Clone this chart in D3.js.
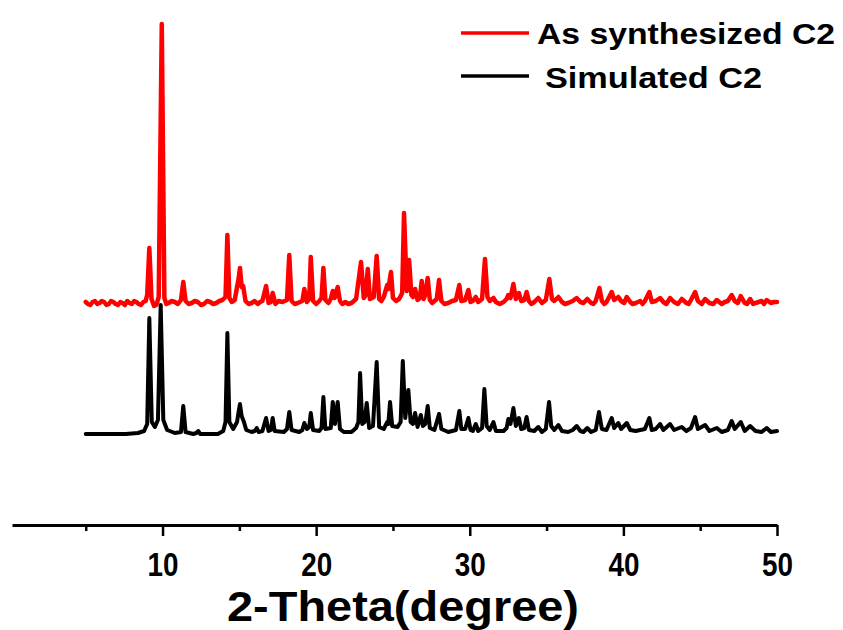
<!DOCTYPE html>
<html>
<head>
<meta charset="utf-8">
<script src="https://cdn.jsdelivr.net/npm/d3@7/dist/d3.min.js"></script>
<style>
  html, body { margin: 0; padding: 0; background: #fff; }
  svg { display: block; }
</style>
</head>
<body>
<svg id="chart" width="843" height="630"></svg>
<script>
// 2-theta (degree), intensity (a.u., above each trace's own baseline)
const simulated = [
  [5.0,0],[7.6,0],[8.4,1],[8.8,3],[9.0,10],[9.14,116],[9.3,12],[9.5,7],[9.7,14],[9.88,129],[10.05,14],
  [10.3,4],[10.8,1],[11.2,2],[11.35,28],[11.5,2],[12.0,0],[12.2,1],[12.33,3],[12.45,0],[13.6,0],[13.95,3],
  [14.1,12],[14.22,101],[14.35,12],[14.6,5],[14.85,12],[14.95,22],[15.04,30],[15.15,18],[15.3,12],[15.45,4],
  [15.8,2],[16.0,3],[16.13,6],[16.25,2],[16.5,3],[16.74,16],[16.9,3],[17.05,4],[17.17,16],[17.3,3],[17.9,2],
  [18.1,5],[18.25,22],[18.4,4],[18.9,2],[19.1,4],[19.23,11],[19.4,5],[19.55,7],[19.65,21],[19.8,4],[20.2,3],
  [20.35,6],[20.47,37],[20.6,5],[20.95,6],[21.08,32],[21.22,10],[21.4,32],[21.55,5],[21.8,2],[22.3,2],
  [22.6,6],[22.75,12],[22.86,61],[23.0,10],[23.15,12],[23.29,31],[23.45,6],[23.7,8],[23.94,72],[24.1,7],
  [24.4,5],[24.63,12],[24.7,10],[24.81,32],[24.95,8],[25.3,7],[25.5,12],[25.64,73],[25.8,16],[26.0,44],
  [26.15,12],[26.3,10],[26.44,21],[26.6,7],[26.81,19],[26.95,8],[27.1,10],[27.26,28],[27.4,6],[27.7,4],
  [28.0,20],[28.15,5],[28.6,2],[29.1,4],[29.32,23],[29.45,5],[29.7,5],[29.91,16],[30.05,4],[30.2,3],
  [30.39,10],[30.55,3],[30.8,6],[30.95,45],[31.1,8],[31.3,4],[31.54,12],[31.7,3],[32.2,3],[32.4,6],
  [32.51,15],[32.65,10],[32.84,26],[33.0,8],[33.2,16],[33.35,5],[33.55,6],[33.7,17],[33.85,4],[34.2,3],
  [34.46,7],[34.7,2],[34.95,5],[35.16,32],[35.3,8],[35.5,4],[35.77,9],[36.0,3],[36.4,2],[36.7,4],[36.96,8],
  [37.2,3],[37.4,2],[37.65,6],[37.9,2],[38.2,4],[38.41,22],[38.6,5],[38.9,4],[39.24,16],[39.4,6],[39.67,11],
  [39.85,5],[40.22,11],[40.45,4],[40.8,3],[41.1,4],[41.4,5],[41.69,16],[41.85,4],[42.1,5],[42.39,10],
  [42.6,4],[43.04,10],[43.3,4],[43.8,7],[44.1,3],[44.4,6],[44.67,17],[44.85,5],[45.32,9],[45.6,3],[46.08,6],
  [46.4,2],[46.8,4],[47.05,13],[47.25,5],[47.64,12],[47.9,3],[48.25,8],[48.6,3],[49.0,2],[49.33,6],
  [49.6,2],[50.0,3]
];

const synthesized = [
  [5.0,1],[5.15,-1],[5.3,-2],[5.45,1],[5.6,2],[5.75,-1],[5.9,0],[6.05,2],[6.2,1],[6.35,-2],[6.5,-1],
  [6.65,2],[6.8,1],[6.95,-1],[7.1,-2],[7.25,1],[7.4,0],[7.55,-2],[7.7,2],[7.85,0],[8.0,-1],[8.15,2],
  [8.3,1],[8.45,-1],[8.6,-2],[8.75,1],[8.9,2],[9.0,8],[9.14,55],[9.28,4],[9.45,-3],[9.6,-2],[9.75,6],
  [9.95,279],[10.12,5],[10.25,-1],[10.4,0],[10.6,2],[10.8,1],[11.0,-1],[11.2,3],[11.35,21],[11.5,2],
  [11.7,-1],[11.9,0],[12.1,2],[12.3,1],[12.5,-2],[12.7,-1],[12.9,2],[13.1,1],[13.3,-1],[13.5,0],[13.7,2],
  [13.9,3],[14.1,6],[14.22,68],[14.35,5],[14.5,1],[14.7,3],[14.85,16],[14.95,24],[15.04,35],[15.15,16],
  [15.25,17],[15.4,2],[15.6,-1],[15.8,0],[16.0,2],[16.2,-1],[16.35,1],[16.5,2],[16.74,17],[16.9,0],
  [17.05,1],[17.17,10],[17.35,-1],[17.55,2],[17.8,1],[18.1,3],[18.25,48],[18.4,2],[18.6,-1],[18.8,0],
  [19.1,2],[19.23,14],[19.4,1],[19.55,4],[19.65,46],[19.8,2],[20.0,-1],[20.2,2],[20.35,5],[20.47,35],
  [20.6,3],[20.8,0],[20.95,4],[21.08,12],[21.2,5],[21.4,16],[21.55,2],[21.7,-1],[21.9,1],[22.1,-1],
  [22.3,0],[22.45,2],[22.6,4],[22.92,41],[23.1,5],[23.22,8],[23.36,34],[23.5,4],[23.75,6],[23.94,47],
  [24.1,4],[24.25,2],[24.4,6],[24.63,18],[24.7,14],[24.87,31],[25.0,5],[25.2,2],[25.4,4],[25.6,10],
  [25.72,90],[25.9,12],[26.05,43],[26.2,8],[26.3,6],[26.44,14],[26.6,3],[26.75,5],[26.87,22],[27.0,4],
  [27.1,8],[27.26,25],[27.4,3],[27.55,0],[27.7,2],[27.85,4],[28.0,23],[28.15,2],[28.35,-1],[28.6,0],
  [28.85,2],[29.1,3],[29.32,18],[29.45,2],[29.7,3],[29.91,13],[30.05,1],[30.2,2],[30.39,6],[30.55,1],
  [30.8,4],[30.99,44],[31.15,6],[31.3,2],[31.54,5],[31.7,1],[31.95,-1],[32.2,1],[32.4,4],[32.51,8],
  [32.65,5],[32.84,19],[33.0,4],[33.2,10],[33.35,2],[33.55,3],[33.7,11],[33.85,2],[34.0,-1],[34.2,1],
  [34.46,5],[34.7,0],[34.95,3],[35.18,24],[35.35,4],[35.5,2],[35.77,6],[36.0,1],[36.2,-1],[36.4,0],
  [36.7,2],[36.96,5],[37.2,1],[37.4,0],[37.65,4],[37.9,0],[38.05,-1],[38.2,2],[38.44,15],[38.6,2],
  [38.75,-1],[38.9,1],[39.24,11],[39.4,3],[39.67,6],[39.85,2],[40.05,0],[40.22,6],[40.45,1],[40.6,-1],
  [40.8,0],[41.1,2],[41.25,-1],[41.4,2],[41.69,11],[41.85,1],[42.1,2],[42.39,5],[42.6,1],[42.8,-1],
  [43.04,5],[43.3,1],[43.55,-1],[43.8,4],[44.1,0],[44.25,-1],[44.4,3],[44.67,11],[44.85,2],[45.1,-1],
  [45.32,4],[45.6,0],[45.85,-1],[46.08,3],[46.4,-1],[46.6,1],[46.8,2],[47.05,8],[47.25,2],[47.45,0],
  [47.64,7],[47.9,0],[48.05,-1],[48.25,4],[48.45,-1],[48.6,0],[48.8,1],[49.0,2],[49.15,-1],[49.33,3],
  [49.6,0],[49.8,1],[50.0,1]
];

const tickValues = [5, 10, 15, 20, 25, 30, 35, 40, 45, 50];
const seriesNames = ["As synthesized C2", "Simulated C2"];
const seriesColors = ["#ff0000", "#000000"];

const FONT = "'Liberation Sans', Arial, sans-serif";

function renderXrd(svgEl) {
  const svg = d3.select(svgEl);
  const width = 843, height = 630;
  svg.attr("viewBox", `0 0 ${width} ${height}`);
  svg.append("rect").attr("width", width).attr("height", height).attr("fill", "#fff");

  const x = d3.scaleLinear().domain([0.2, 50]).range([12, 777]);
  const y = d3.scaleLinear().domain([0, 501]).range([525, 24]);
  // vertical stacking of the two patterns
  const offsets = [222, 91];

  const line = (off) => d3.line()
    .x((d) => x(d[0]))
    .y((d) => y(d[1] + off));

  [synthesized, simulated].forEach((data, i) => {
    svg.append("path")
      .datum(data)
      .attr("fill", "none")
      .attr("stroke", seriesColors[i])
      .attr("stroke-width", i === 0 ? 4.5 : 4)
      .attr("stroke-linejoin", "round")
      .attr("stroke-linecap", "round")
      .attr("d", line(offsets[i]));
  });

  const axis = svg.append("g")
    .attr("transform", `translate(0,${y(0)})`)
    .call(d3.axisBottom(x)
      .tickValues(tickValues)
      .tickSizeOuter(0)
      .tickFormat((d) => (d % 10 === 0 ? d : "")));

  axis.select(".domain").attr("stroke", "#000").attr("stroke-width", 3);
  axis.selectAll(".tick line")
    .attr("stroke", "#000")
    .attr("stroke-width", 2.5)
    .attr("y2", (d) => (d % 10 === 0 ? 11 : 6));
  axis.selectAll(".tick text")
    .filter((d) => d % 10 === 0)
    .attr("y", 51)
    .attr("dy", 0)
    .attr("fill", "#000")
    .attr("font-family", FONT)
    .attr("font-weight", "bold")
    .attr("font-size", 34)
    .attr("textLength", 31)
    .attr("lengthAdjust", "spacingAndGlyphs");

  svg.append("text")
    .attr("x", 403)
    .attr("y", 621)
    .attr("text-anchor", "middle")
    .attr("font-family", FONT)
    .attr("font-weight", "bold")
    .attr("font-size", 42)
    .attr("textLength", 352)
    .attr("lengthAdjust", "spacingAndGlyphs")
    .text("2-Theta(degree)");

  // legend
  const legendY = [33, 76];
  const legendTextX = [537, 545];
  const legendBase = [44, 88];
  const legendLen = [298, 217];
  seriesNames.forEach((name, i) => {
    svg.append("line")
      .attr("x1", 461).attr("x2", 529)
      .attr("y1", legendY[i]).attr("y2", legendY[i])
      .attr("stroke", seriesColors[i])
      .attr("stroke-width", 3.5);
    svg.append("text")
      .attr("x", legendTextX[i])
      .attr("y", legendBase[i])
      .attr("font-family", FONT)
      .attr("font-weight", "bold")
      .attr("font-size", 29)
      .attr("textLength", legendLen[i])
      .attr("lengthAdjust", "spacingAndGlyphs")
      .attr("fill", "#000")
      .text(name);
  });
}

renderXrd(document.getElementById("chart"));
</script>
</body>
</html>
